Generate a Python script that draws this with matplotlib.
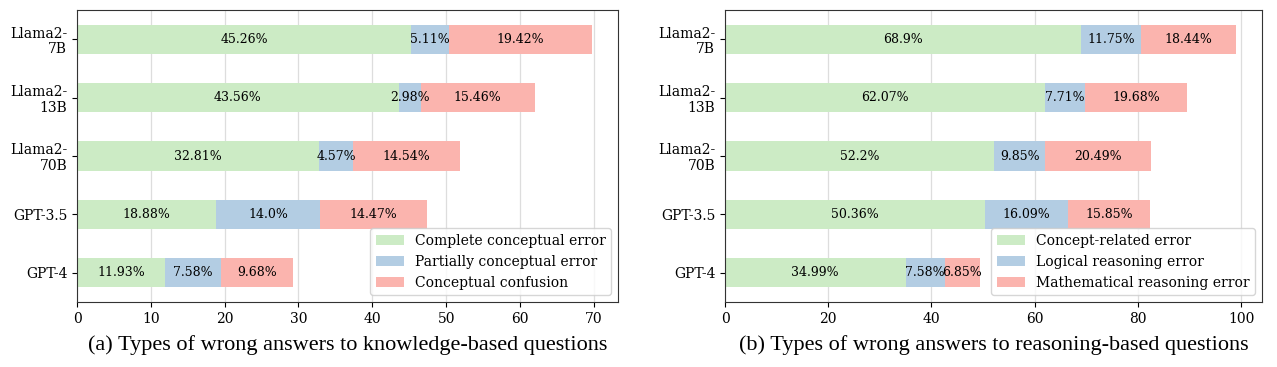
import numpy as np
import matplotlib.pyplot as plt

models = ['Llama2-\n7B', 'Llama2-\n13B', 'Llama2-\n70B', 'GPT-3.5', 'GPT-4']

# (a) knowledge-based
complete_err = [45.26, 43.56, 32.81, 18.88, 11.93]
partial_err = [5.11, 2.98, 4.57, 14.0, 7.58]
confusion = [19.42, 15.46, 14.54, 14.47, 9.68]

# (b) reasoning-based
concept_err = [68.9, 62.07, 52.2, 50.36, 34.99]
logical_err = [11.75, 7.71, 9.85, 16.09, 7.58]
math_err = [18.44, 19.68, 20.49, 15.85, 6.85]

legend_a = ['Complete conceptual error', 'Partially conceptual error', 'Conceptual confusion']
legend_b = ['Concept-related error', 'Logical reasoning error', 'Mathematical reasoning error']
captions = ['(a) Types of wrong answers to knowledge-based questions',
            '(b) Types of wrong answers to reasoning-based questions']

colors = ['#ccebc5', '#b3cde3', '#fbb4ae']

plt.rcParams['font.family'] = 'DejaVu Serif'

fig = plt.figure(figsize=(12.77, 3.67), dpi=100)
ax1 = fig.add_axes([77 / 1277, 65 / 367, 541 / 1277, 292 / 367])
ax2 = fig.add_axes([725 / 1277, 65 / 367, 537 / 1277, 292 / 367])


def draw(ax, series, labels, caption):
    ypos = np.arange(len(models))[::-1]
    left = np.zeros(len(models))
    for vals, col, lab in zip(series, colors, labels):
        bars = ax.barh(ypos, vals, height=0.5, left=left, color=col, label=lab, zorder=2)
        for b, v in zip(bars, vals):
            ax.text(b.get_x() + b.get_width() / 2, b.get_y() + b.get_height() / 2,
                    f'{v}%', ha='center', va='center', fontsize=9, zorder=3)
        left = left + np.array(vals)
    ax.set_yticks(ypos)
    ax.set_yticklabels(models, fontsize=10, linespacing=1.15)
    ax.set_ylim(-0.5, len(models) - 0.5)
    ax.set_xlim(0, left.max() * 1.05)
    ax.tick_params(axis='x', labelsize=10)
    for s in ax.spines.values():
        s.set_color('#333333')
    ax.grid(axis='x', color='#dddddd', linewidth=0.9, zorder=0)
    ax.set_axisbelow(True)
    ax.legend(loc='lower right', fontsize=10)
    pos = ax.get_position()
    fig.text((pos.x0 + pos.x1) / 2, 1 - 345 / 367, caption, ha='center', va='center',
             fontsize=16, family='Liberation Serif')


draw(ax1, [complete_err, partial_err, confusion], legend_a, captions[0])
draw(ax2, [concept_err, logical_err, math_err], legend_b, captions[1])

fig.savefig('out.png', dpi=100)
